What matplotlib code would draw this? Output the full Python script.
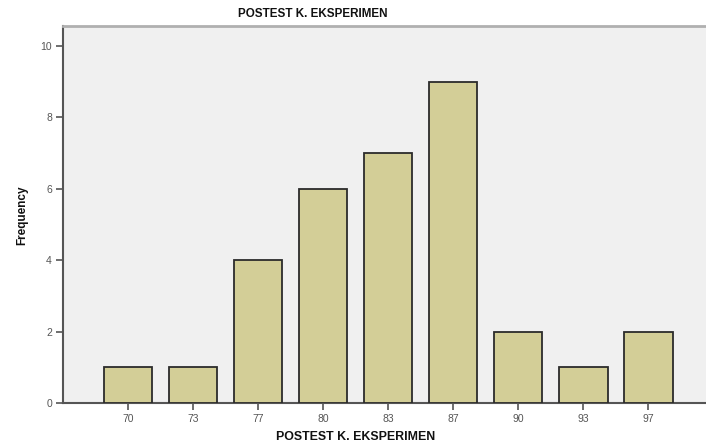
import numpy as np
import matplotlib
matplotlib.use('Agg')
from matplotlib import pyplot as plt

plt.rcParams['font.family'] = ['Liberation Sans', 'DejaVu Sans']

scores = ['70', '73', '77', '80', '83', '87', '90', '93', '97']
freq = [1, 1, 4, 6, 7, 9, 2, 1, 2]
yticks = [0, 2, 4, 6, 8, 10]

fig = plt.figure(figsize=(7.06, 4.48), dpi=100)
ax = fig.add_axes([63/706, 45/448, 1 - 63/706, 377/448])
ax.set_facecolor('#F0F0F0')

x = np.arange(len(scores))
ax.bar(x, freq, width=0.75, color='#D3CE97', edgecolor='#2b2b2b', linewidth=1.3, zorder=3)

ax.set_xlim(-1, 8.89)
ax.set_ylim(0, 10.56)
ax.set_xticks(x)
ax.set_xticklabels(scores)
ax.set_yticks(yticks)
ax.tick_params(axis='both', direction='out', length=5, width=1.2, color='#555555',
               labelsize=7.5, labelcolor='#555555', pad=3)

ax.spines['right'].set_visible(False)
ax.spines['top'].set_color('#b0b0b0')
ax.spines['top'].set_linewidth(2)
for s in ['left', 'bottom']:
    ax.spines[s].set_color('#555555')
    ax.spines[s].set_linewidth(1.5)

fig.text(313/706, 1 - 14/448, 'POSTEST K. EKSPERIMEN', ha='center', va='center',
         fontsize=8.4, fontweight='bold', color='#111111')
fig.text(356/706, 1 - 437/448, 'POSTEST K. EKSPERIMEN', ha='center', va='center',
         fontsize=8.9, fontweight='bold', color='#111111')
fig.text(22/706, 1 - 215/448, 'Frequency', ha='center', va='center', rotation=90,
         fontsize=8.5, fontweight='bold', color='#111111')

fig.savefig('out.png', dpi=100)
